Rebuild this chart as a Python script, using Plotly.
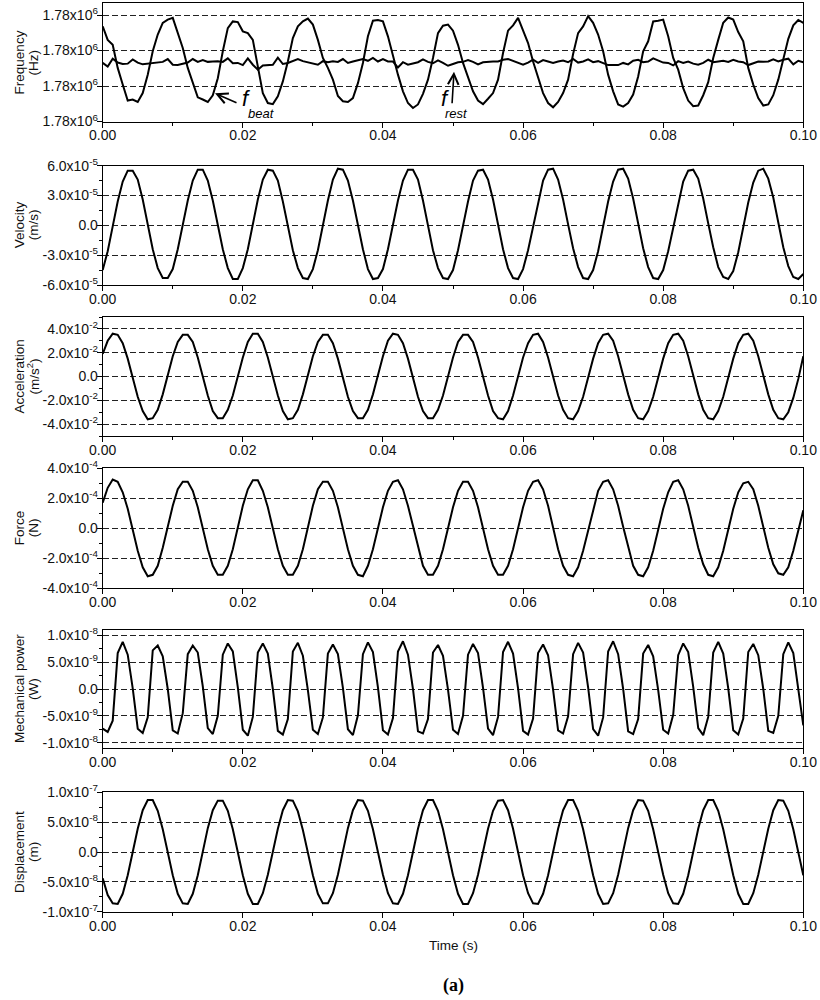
import plotly.graph_objects as go

# ---------------- data ----------------
T_END = 0.1
N_SAMPLES = 141
time_s = [i * T_END / (N_SAMPLES - 1) for i in range(N_SAMPLES)]

FREQ_BASE_HZ = 1779970.0
# frequency offsets above FREQ_BASE_HZ (Hz)
f_beat_offset = [
    26.8, 23.0, 21.6, 15.1, 10.4, 5.9, 6.2, 5.5, 8.0, 13.2, 19.8, 24.5, 27.8, 28.7,
    29.2, 24.9, 20.7, 15.1, 10.8, 6.8, 6.2, 5.5, 7.4, 12.2, 19.8, 26.3, 28.2, 28.0,
    25.4, 24.9, 23.0, 15.1, 8.0, 5.2, 4.9, 7.1, 11.3, 16.9, 23.5, 26.8, 28.2, 29.0,
    27.3, 23.0, 17.9, 15.1, 11.8, 7.2, 5.7, 5.5, 6.6, 10.8, 16.5, 24.0, 28.4, 28.6,
    28.2, 24.0, 18.4, 13.2, 8.5, 5.2, 3.8, 4.8, 7.8, 11.8, 17.9, 24.9, 27.0, 27.3,
    25.6, 21.6, 16.5, 12.2, 8.5, 5.9, 4.9, 6.4, 8.0, 11.8, 19.3, 25.6, 27.1, 29.2,
    25.6, 22.1, 16.9, 12.7, 8.0, 5.2, 4.0, 5.5, 8.0, 11.8, 19.0, 24.9, 26.8, 29.7,
    27.8, 24.5, 19.8, 13.2, 8.5, 4.8, 4.2, 5.2, 7.6, 12.7, 19.8, 22.6, 28.2, 28.4,
    28.7, 24.0, 17.9, 14.6, 9.4, 5.9, 4.3, 4.5, 7.4, 11.1, 17.9, 23.0, 27.8, 29.3,
    28.7, 25.2, 22.6, 15.1, 10.4, 6.6, 4.5, 4.8, 7.4, 11.8, 17.9, 23.3, 27.1, 28.6,
    27.8,
]
f_rest_offset = [
    16.5, 15.5, 17.7, 16.6, 16.2, 16.3, 17.5, 16.6, 16.1, 16.3, 16.5, 16.7, 16.8, 17.6,
    16.0, 15.9, 16.2, 16.6, 17.6, 16.8, 17.3, 16.8, 16.9, 17.0, 16.8, 17.8, 16.4, 16.5,
    15.9, 17.8, 16.0, 14.6, 15.8, 16.0, 16.0, 18.0, 16.2, 16.5, 17.0, 17.6, 17.0, 16.6,
    16.3, 16.0, 17.0, 16.7, 17.0, 16.8, 17.6, 16.5, 16.9, 17.2, 17.6, 17.1, 17.9, 16.9,
    17.6, 16.9, 16.9, 15.2, 16.7, 16.0, 16.4, 16.7, 17.5, 16.8, 16.4, 17.2, 16.5, 15.7,
    16.2, 16.7, 16.8, 17.3, 16.8, 16.1, 16.7, 16.9, 16.9, 16.9, 17.4, 17.6, 17.0, 16.6,
    16.0, 16.6, 17.4, 16.5, 17.3, 16.9, 16.5, 16.9, 17.2, 16.7, 17.6, 16.6, 16.9, 17.5,
    16.7, 17.0, 16.5, 15.9, 15.9, 15.9, 16.5, 16.1, 17.1, 17.4, 16.7, 16.9, 17.8, 17.2,
    16.6, 16.5, 15.8, 17.0, 16.5, 16.9, 16.3, 16.0, 16.5, 17.4, 16.7, 16.9, 17.1, 16.8,
    17.4, 16.9, 16.7, 15.9, 16.4, 16.9, 16.8, 16.9, 17.5, 16.9, 17.4, 17.7, 16.1, 17.1,
    16.7,
]

# velocity in units of 1e-5 m/s
velocity_e5 = [
    -4.5, -2.6, -0.1, 2.4, 4.4, 5.5, 5.5, 4.6, 2.6, 0.1, -2.4, -4.3, -5.3, -5.3,
    -4.4, -2.4, 0.0, 2.5, 4.5, 5.6, 5.6, 4.5, 2.5, 0.0, -2.4, -4.3, -5.4, -5.4,
    -4.3, -2.4, 0.1, 2.6, 4.6, 5.6, 5.5, 4.5, 2.4, -0.1, -2.5, -4.3, -5.3, -5.4,
    -4.4, -2.5, 0.0, 2.5, 4.6, 5.7, 5.6, 4.5, 2.5, 0.0, -2.4, -4.4, -5.4, -5.3,
    -4.4, -2.4, 0.1, 2.5, 4.5, 5.6, 5.6, 4.6, 2.5, 0.0, -2.5, -4.3, -5.3, -5.4,
    -4.5, -2.5, 0.0, 2.4, 4.5, 5.5, 5.6, 4.6, 2.6, 0.1, -2.4, -4.3, -5.3, -5.4,
    -4.4, -2.5, -0.1, 2.4, 4.5, 5.6, 5.7, 4.6, 2.6, 0.1, -2.3, -4.2, -5.3, -5.4,
    -4.5, -2.6, -0.1, 2.4, 4.4, 5.6, 5.7, 4.7, 2.7, 0.2, -2.3, -4.2, -5.3, -5.4,
    -4.5, -2.6, -0.2, 2.3, 4.4, 5.5, 5.6, 4.7, 2.7, 0.2, -2.2, -4.2, -5.2, -5.4,
    -4.6, -2.7, -0.2, 2.3, 4.3, 5.5, 5.7, 4.7, 2.8, 0.3, -2.2, -4.1, -5.2, -5.4,
    -4.9,
]
# acceleration in units of 1e-2 m/s^2
acceleration_e2 = [
    1.9, 3.0, 3.6, 3.5, 2.8, 1.5, -0.1, -1.7, -2.9, -3.6, -3.5, -2.8, -1.5, 0.1,
    1.7, 2.9, 3.5, 3.5, 2.9, 1.6, 0.0, -1.6, -2.9, -3.5, -3.5, -2.8, -1.6, 0.0,
    1.6, 2.9, 3.6, 3.6, 2.9, 1.6, 0.0, -1.6, -2.9, -3.6, -3.5, -2.8, -1.5, 0.1,
    1.7, 2.9, 3.5, 3.5, 2.8, 1.5, -0.1, -1.7, -2.9, -3.5, -3.5, -2.8, -1.5, 0.1,
    1.7, 3.0, 3.6, 3.5, 2.8, 1.5, -0.1, -1.7, -2.9, -3.5, -3.5, -2.8, -1.6, 0.0,
    1.6, 2.9, 3.5, 3.5, 2.9, 1.6, 0.0, -1.6, -2.9, -3.5, -3.6, -2.9, -1.6, 0.0,
    1.6, 2.8, 3.5, 3.6, 2.9, 1.6, 0.0, -1.6, -2.8, -3.5, -3.6, -2.9, -1.7, -0.1,
    1.5, 2.8, 3.5, 3.6, 3.0, 1.7, 0.1, -1.5, -2.8, -3.5, -3.6, -2.9, -1.7, -0.1,
    1.5, 2.8, 3.5, 3.6, 3.0, 1.7, 0.1, -1.5, -2.8, -3.5, -3.6, -2.9, -1.7, -0.1,
    1.5, 2.8, 3.5, 3.6, 3.0, 1.7, 0.1, -1.5, -2.8, -3.5, -3.6, -3.0, -1.8, -0.2,
    1.7,
]
# force in units of 1e-4 N
force_e4 = [
    1.7, 2.7, 3.25, 3.1, 2.4, 1.3, -0.1, -1.5, -2.6, -3.2, -3.1, -2.5, -1.3, 0.1,
    1.5, 2.6, 3.1, 3.1, 2.5, 1.4, 0.0, -1.4, -2.5, -3.1, -3.1, -2.5, -1.4, 0.0,
    1.5, 2.6, 3.2, 3.2, 2.5, 1.4, 0.0, -1.4, -2.5, -3.1, -3.1, -2.5, -1.4, 0.1,
    1.5, 2.6, 3.1, 3.1, 2.5, 1.4, 0.0, -1.4, -2.5, -3.1, -3.2, -2.5, -1.4, 0.0,
    1.4, 2.5, 3.1, 3.2, 2.6, 1.5, 0.1, -1.3, -2.5, -3.1, -3.1, -2.5, -1.4, 0.0,
    1.4, 2.5, 3.1, 3.1, 2.5, 1.4, 0.0, -1.4, -2.5, -3.1, -3.1, -2.5, -1.4, 0.0,
    1.4, 2.5, 3.1, 3.2, 2.6, 1.5, 0.0, -1.4, -2.5, -3.1, -3.2, -2.6, -1.5, -0.1,
    1.3, 2.5, 3.1, 3.2, 2.6, 1.5, 0.1, -1.3, -2.5, -3.1, -3.2, -2.6, -1.5, -0.1,
    1.3, 2.4, 3.1, 3.2, 2.6, 1.5, 0.1, -1.3, -2.4, -3.1, -3.2, -2.6, -1.5, -0.1,
    1.3, 2.4, 3.0, 3.1, 2.6, 1.5, 0.1, -1.3, -2.4, -3.0, -3.1, -2.6, -1.5, -0.2,
    1.2,
]
# mechanical power in units of 1e-9 W
power_e9 = [
    -7.4, -8.0, -5.9, 6.7, 8.8, 6.4, 0.1,
    -7.4, -8.2, -5.3, 7.2, 8.1, 6.1, 0.0,
    -7.7, -8.3, -4.5, 6.5, 8.1, 6.8, 0.5,
    -7.3, -8.4, -5.0, 6.4, 8.5, 7.0, 0.3,
    -7.6, -8.7, -5.2, 6.8, 8.5, 6.6, 0.0,
    -7.8, -8.5, -5.6, 7.0, 8.6, 6.2, -0.2,
    -7.6, -8.4, -5.3, 6.6, 8.3, 6.5, 0.2,
    -7.5, -8.6, -4.9, 6.5, 8.7, 6.9, 0.3,
    -7.7, -8.5, -5.4, 7.0, 8.9, 6.4, 0.0,
    -7.9, -8.3, -5.6, 6.8, 8.2, 6.2, -0.1,
    -7.6, -8.4, -5.0, 6.4, 8.4, 6.7, 0.2,
    -7.4, -8.6, -5.2, 6.9, 8.8, 6.6, 0.1,
    -7.8, -8.5, -5.5, 6.7, 8.3, 6.3, -0.1,
    -7.7, -8.3, -5.1, 6.5, 8.6, 6.8, 0.3,
    -7.5, -8.7, -5.3, 7.0, 8.9, 6.5, 0.0,
    -7.9, -8.4, -5.6, 6.6, 8.2, 6.1, -0.2,
    -7.6, -8.3, -4.8, 6.3, 8.5, 6.9, 0.4,
    -7.3, -8.6, -5.2, 6.8, 8.8, 6.6, 0.1,
    -7.7, -8.5, -5.5, 6.9, 8.4, 6.3, 0.0,
    -7.8, -8.2, -5.0, 6.5, 8.7, 6.7, 0.2,
    -6.8,
]
# displacement in units of 1e-8 m
displacement_e8 = [
    -4.4, -7.2, -8.6, -8.7, -7.0, -3.9, 0.0, 3.9, 7.0, 8.7, 8.7, 6.9, 3.8, -0.1,
    -3.9, -7.0, -8.6, -8.7, -7.0, -3.9, 0.1, 4.0, 7.0, 8.6, 8.6, 6.9, 3.8, 0.0,
    -3.9, -7.0, -8.7, -8.7, -6.9, -3.8, 0.1, 3.9, 7.0, 8.7, 8.6, 6.8, 3.7, -0.1,
    -3.9, -7.0, -8.6, -8.6, -6.9, -3.8, 0.1, 4.0, 7.0, 8.7, 8.6, 6.9, 3.8, 0.0,
    -3.8, -6.9, -8.6, -8.7, -7.0, -3.9, 0.0, 3.9, 7.0, 8.7, 8.7, 6.9, 3.8, -0.1,
    -3.9, -7.0, -8.7, -8.7, -6.9, -3.8, 0.1, 3.9, 6.9, 8.6, 8.7, 7.0, 3.9, 0.0,
    -3.9, -6.9, -8.6, -8.7, -7.0, -3.9, 0.0, 3.9, 7.0, 8.7, 8.7, 6.9, 3.8, -0.1,
    -3.9, -7.0, -8.7, -8.6, -6.9, -3.8, 0.1, 4.0, 7.0, 8.7, 8.6, 6.9, 3.8, 0.0,
    -3.8, -6.9, -8.6, -8.7, -7.0, -3.9, 0.0, 3.9, 7.0, 8.7, 8.7, 6.9, 3.8, -0.1,
    -3.9, -7.0, -8.7, -8.7, -6.9, -3.8, 0.1, 3.9, 7.0, 8.7, 8.6, 6.9, 3.8, 0.0,
    -3.9,
]

# tick values / labels
x_tickvals = [0.0, 0.02, 0.04, 0.06, 0.08, 0.10]
x_ticktext = ["0.00", "0.02", "0.04", "0.06", "0.08", "0.10"]

freq_tickvals = [1779970, 1779980, 1779990, 1780000]
freq_ticktext = ["1.78x10<sup>6</sup>"] * 4
vel_tickvals = [-6e-5, -3e-5, 0, 3e-5, 6e-5]
vel_ticktext = ["-6.0x10<sup>-5</sup>", "-3.0x10<sup>-5</sup>", "0.0",
                "3.0x10<sup>-5</sup>", "6.0x10<sup>-5</sup>"]
acc_tickvals = [-0.04, -0.02, 0, 0.02, 0.04]
acc_ticktext = ["-4.0x10<sup>-2</sup>", "-2.0x10<sup>-2</sup>", "0.0",
                "2.0x10<sup>-2</sup>", "4.0x10<sup>-2</sup>"]
force_tickvals = [-4e-4, -2e-4, 0, 2e-4, 4e-4]
force_ticktext = ["-4.0x10<sup>-4</sup>", "-2.0x10<sup>-4</sup>", "0.0",
                  "2.0x10<sup>-4</sup>", "4.0x10<sup>-4</sup>"]
power_tickvals = [-1e-8, -5e-9, 0, 5e-9, 1e-8]
power_ticktext = ["-1.0x10<sup>-8</sup>", "-5.0x10<sup>-9</sup>", "0.0",
                  "5.0x10<sup>-9</sup>", "1.0x10<sup>-8</sup>"]
disp_tickvals = [-1e-7, -5e-8, 0, 5e-8, 1e-7]
disp_ticktext = ["-1.0x10<sup>-7</sup>", "-5.0x10<sup>-8</sup>", "0.0",
                 "5.0x10<sup>-8</sup>", "1.0x10<sup>-7</sup>"]

# ---------------- layout helpers ----------------
W, H = 820, 1000
X_LEFT, X_RIGHT = 102.7, 803.3


def px_x(x):
    return x / W


def px_y(y):
    return 1 - y / H


FONT = "Liberation Sans, Arial, sans-serif"
TXT = "#111"
TICK_SIZE = 14
TITLE_SIZE = 13.5

panels = [
    # (top px, bottom px, range, tickvals, ticktext, minor dtick, title1, title2)
    (3.3, 121.5, [1779970, 1780003.3], freq_tickvals, freq_ticktext, None,
     "Frequency", "(Hz)"),
    (165.7, 285.0, [-6e-5, 6e-5], vel_tickvals, vel_ticktext, 1.5e-5,
     "Velocity", "(m/s)"),
    (317.0, 436.0, [-0.05, 0.05], acc_tickvals, acc_ticktext, 0.01,
     "Acceleration", "(m/s<sup>2</sup>)"),
    (468.3, 588.3, [-4e-4, 4e-4], force_tickvals, force_ticktext, 1e-4,
     "Force", "(N)"),
    (630.0, 748.0, [-1.1e-8, 1.1e-8], power_tickvals, power_ticktext, 2.5e-9,
     "Mechanical power", "(W)"),
    (792.3, 911.7, [-1e-7, 1e-7], disp_tickvals, disp_ticktext, 2.5e-8,
     "Displacement", "(m)"),
]

series = [
    [[FREQ_BASE_HZ + v for v in f_beat_offset], [FREQ_BASE_HZ + v for v in f_rest_offset]],
    [[v * 1e-5 for v in velocity_e5]],
    [[v * 1e-2 for v in acceleration_e2]],
    [[v * 1e-4 for v in force_e4]],
    [[v * 1e-9 for v in power_e9]],
    [[v * 1e-8 for v in displacement_e8]],
]

fig = go.Figure()
layout = dict(
    width=W, height=H,
    margin=dict(l=0, r=0, t=0, b=0),
    paper_bgcolor="white", plot_bgcolor="white",
    showlegend=False,
    font=dict(family=FONT, size=13, color=TXT),
)
annotations = []

for i, (top, bot, yr, tv, tt, mdt, t1, t2) in enumerate(panels):
    n = i + 1
    xa = "xaxis" if n == 1 else f"xaxis{n}"
    ya = "yaxis" if n == 1 else f"yaxis{n}"
    xr = "x" if n == 1 else f"x{n}"
    yr_ = "y" if n == 1 else f"y{n}"
    for s in series[i]:
        fig.add_trace(go.Scatter(x=time_s, y=s, mode="lines",
                                 line=dict(color="black", width=2),
                                 xaxis=xr, yaxis=yr_, hoverinfo="skip"))
    layout[xa] = dict(
        domain=[px_x(X_LEFT), px_x(X_RIGHT)], anchor=yr_,
        range=[0, 0.1], tickmode="array", tickvals=x_tickvals, ticktext=x_ticktext,
        ticks="outside", ticklen=5, tickwidth=1, tickcolor="black",
        ticklabelstandoff=-4,
        minor=dict(ticks="outside", ticklen=3, tickwidth=1, tickcolor="black",
                   tickmode="array", tickvals=[0.01, 0.03, 0.05, 0.07, 0.09]),
        showline=True, linecolor="black", linewidth=1, mirror=True,
        showgrid=False, zeroline=False, automargin=False,
        tickfont=dict(family=FONT, size=TICK_SIZE, color=TXT),
    )
    ydict = dict(
        domain=[px_y(bot), px_y(top)], anchor=xr,
        range=yr, tickmode="array", tickvals=tv, ticktext=tt,
        ticks="outside", ticklen=5, tickwidth=1, tickcolor="black",
        ticklabelstandoff=-4,
        showline=True, linecolor="black", linewidth=1, mirror=True,
        showgrid=True, gridcolor="#222", gridwidth=1, griddash="6px,3px",
        zeroline=False, automargin=False,
        tickfont=dict(family=FONT, size=TICK_SIZE, color=TXT),
    )
    if mdt is not None:
        ydict["minor"] = dict(ticks="outside", ticklen=3, tickwidth=1,
                              tickcolor="black", dtick=mdt, tick0=0,
                              showgrid=False)
    layout[ya] = ydict
    yc = px_y((top + bot) / 2)
    annotations.append(dict(xref="paper", yref="paper", x=px_x(19), y=yc,
                            text=t1, textangle=-90, showarrow=False,
                            font=dict(family=FONT, size=TITLE_SIZE, color=TXT),
                            xanchor="center", yanchor="middle"))
    annotations.append(dict(xref="paper", yref="paper", x=px_x(33), y=yc,
                            text=t2, textangle=-90, showarrow=False,
                            font=dict(family=FONT, size=TITLE_SIZE, color=TXT),
                            xanchor="center", yanchor="middle"))

# f_beat / f_rest labels and arrows
annotations += [
    dict(xref="paper", yref="paper", x=px_x(215), y=px_y(93.3), ax=23, ay=10,
         text="", showarrow=True, arrowhead=5, arrowsize=1.3, arrowwidth=1.6,
         arrowcolor="black"),
    dict(xref="paper", yref="paper", x=px_x(454), y=px_y(71.7), ax=-2, ay=33,
         text="", showarrow=True, arrowhead=5, arrowsize=1.3, arrowwidth=1.6,
         arrowcolor="black"),
    dict(xref="paper", yref="paper", x=px_x(240), y=px_y(99), text="<i>f</i>",
         showarrow=False, xanchor="left", yanchor="middle",
         font=dict(family=FONT, size=22, color="black")),
    dict(xref="paper", yref="paper", x=px_x(246), y=px_y(113.5), text="<i>beat</i>",
         showarrow=False, xanchor="left", yanchor="middle",
         font=dict(family=FONT, size=13, color="black")),
    dict(xref="paper", yref="paper", x=px_x(439), y=px_y(99), text="<i>f</i>",
         showarrow=False, xanchor="left", yanchor="middle",
         font=dict(family=FONT, size=22, color="black")),
    dict(xref="paper", yref="paper", x=px_x(443), y=px_y(113.5), text="<i>rest</i>",
         showarrow=False, xanchor="left", yanchor="middle",
         font=dict(family=FONT, size=13, color="black")),
    dict(xref="paper", yref="paper", x=px_x(453), y=px_y(945), text="Time (s)",
         showarrow=False, xanchor="center", yanchor="middle",
         font=dict(family=FONT, size=13.5, color=TXT)),
    dict(xref="paper", yref="paper", x=px_x(453), y=px_y(985), text="<b>(a)</b>",
         showarrow=False, xanchor="center", yanchor="middle",
         font=dict(family="Liberation Serif, Times New Roman, serif", size=18,
                   color="black")),
]
layout["annotations"] = annotations
fig.update_layout(**layout)

fig.write_html("out.html",
               config={"displayModeBar": False, "staticPlot": True},
               post_script="document.body.style.margin='0';"
                           "document.body.style.padding='0';"
                           "document.body.style.overflow='hidden';")
